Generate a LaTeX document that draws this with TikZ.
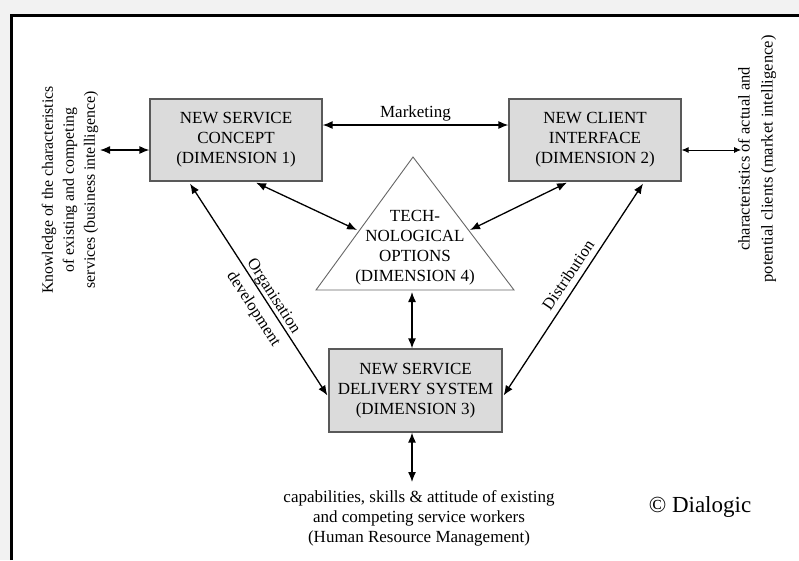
\documentclass[tikz,border=0pt]{standalone}
\usepackage{fontspec}
\setmainfont{Liberation Serif}
\usetikzlibrary{arrows.meta,calc}

\begin{document}
\begin{tikzpicture}[x=1pt,y=-1pt,
  txt/.style={font=\fontsize{17}{20}\selectfont, inner sep=0pt, align=center},
  dimbox/.style={txt, draw=black!65, line width=1.2pt, fill=black!14,
    minimum width=172pt, minimum height=82pt},
  link/.style={line width=1.3pt, {Latex[length=10pt,width=8pt]}-{Latex[length=10pt,width=8pt]}},
  thinlink/.style={line width=0.8pt, {Latex[length=7pt,width=6pt]}-{Latex[length=7pt,width=6pt]}}
]
\useasboundingbox (0,0) rectangle (799,560);
% page background and frame
\fill[black!5] (0,0) rectangle (799,560);
\fill[white] (11,15) rectangle (799,560);
\draw[line width=3pt] (11,560) -- (11,15) -- (799,15);

% the four dimensions
\node[dimbox] (b1) at (236,140) {NEW SERVICE\\CONCEPT\\(DIMENSION 1)};
\node[dimbox] (b2) at (595,140) {NEW CLIENT\\INTERFACE\\(DIMENSION 2)};
\node[dimbox, minimum width=173pt, minimum height=83pt] (b3) at (415.5,390.5)
  {NEW SERVICE\\DELIVERY SYSTEM\\(DIMENSION 3)};

\coordinate (tl) at (316,290);
\coordinate (tr) at (514,290);
\coordinate (tt) at (413,157);
\draw[draw=black!60, line width=0.9pt, fill=white] (tl) -- (tr) -- (tt) -- cycle;
\node[txt] (b4) at (415,248) {TECH-\\NOLOGICAL\\OPTIONS\\(DIMENSION 4)};

% points on the triangle edges
\coordinate (t4l) at (357,230);
\coordinate (t4r) at (470,230);
\coordinate (t4b) at (412,292);

% outside texts
\node[txt, rotate=90, font=\fontsize{15.8}{21}\selectfont] (bi) at (70,190)
  {Knowledge of the characteristics\\of existing and competing\\services (business intelligence)};
\node[txt, rotate=90, font=\fontsize{16.5}{23}\selectfont] (mi) at (757,159)
  {characteristics of actual and\\potential clients (market intelligence)};
\node[txt] (hr) at (419,518)
  {capabilities, skills \& attitude of existing\\and competing service workers\\(Human Resource Management)};
\node[font=\fontsize{23}{26}\selectfont, inner sep=0pt] (cr) at (700,507) {© Dialogic};

% connectors
\coordinate (bil) at (100,150);
\coordinate (mil) at (741,150);
\coordinate (hrt) at (412,482);
\draw[link] (bil) -- (b1.west |- bil);
\draw[link] (b1.east |- 0,125) -- node[txt, above=3pt] (mk) {Marketing} (b2.west |- 0,125);
\draw[thinlink] (b2.east |- mil) -- (mil);
\draw[link] ($(b1.south)+(20,1)$) -- (t4l);
\draw[link] ($(b2.south)+(-28,1)$) -- (t4r);
\draw[link] ($(b1.south)+(-46,2)$) -- ($(b3.west)+(-1,5)$);
\draw[link] ($(b2.south)+(48,2)$) -- ($(b3.east)+(1,5)$);
\draw[link] (t4b) -- (b3.north -| t4b);
\draw[link] (b3.south -| hrt) -- (hrt);

% connector labels
\node[txt, rotate=-57, font=\fontsize{16.5}{24}\selectfont] (od) at (263,303) {Organisation\\development};
\node[txt, rotate=56, font=\fontsize{16.5}{20}\selectfont] (ds) at (568,275) {Distribution};
\end{tikzpicture}
\end{document}
